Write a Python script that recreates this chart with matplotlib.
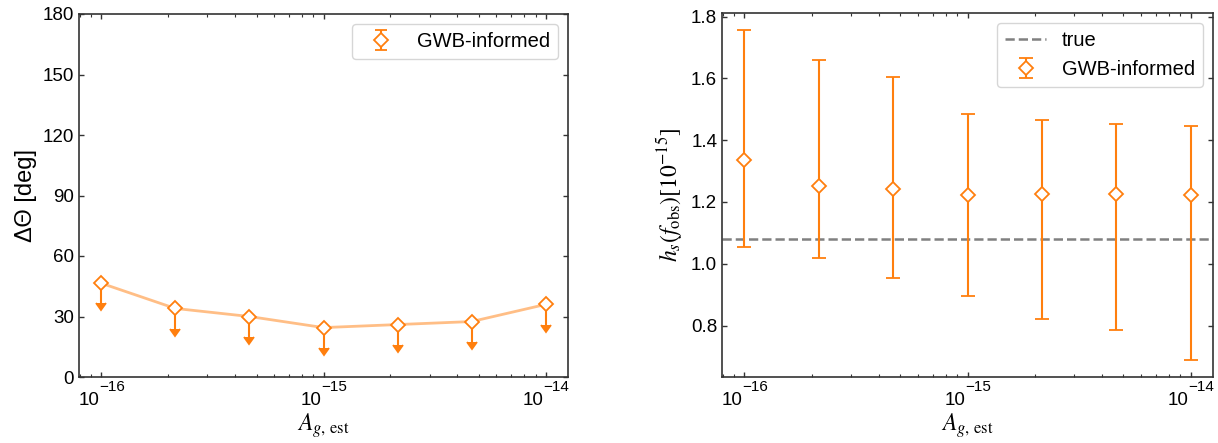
import numpy as np
import matplotlib
matplotlib.use("Agg")
import matplotlib.pyplot as plt
from matplotlib.ticker import NullFormatter, LogLocator

plt.rcParams['font.family'] = ['Liberation Sans', 'DejaVu Sans']
plt.rcParams['mathtext.fontset'] = 'stix'
plt.rcParams['font.size'] = 13.5

# amplitudes of the injected GWB estimate
a_est = [1e-16, 2.154e-16, 4.642e-16, 1e-15, 2.154e-15, 4.642e-15, 1e-14]
decades = [-16, -15, -14]

# left panel: sky localisation upper limits [deg]
dtheta = [46.5, 34.0, 30.0, 24.5, 26.0, 27.5, 36.0]
dtheta_arrow = [10.0, 10.0, 10.0, 10.0, 10.0, 10.0, 10.0]

# right panel: strain amplitude [1e-15]
hs_med = [1.335, 1.252, 1.243, 1.223, 1.227, 1.227, 1.223]
hs_hi = [1.758, 1.659, 1.606, 1.485, 1.465, 1.451, 1.447]
hs_lo = [1.054, 1.018, 0.954, 0.894, 0.822, 0.785, 0.687]
hs_true = 1.081

orange = '#ff7f0e'
W, H = 1218, 443
fig = plt.figure(figsize=(W / 100, H / 100), dpi=100)
ax1 = fig.add_axes([79 / W, 66 / H, 489 / W, 363 / H])
ax2 = fig.add_axes([722 / W, 66 / H, 491 / W, 364 / H])

for ax in (ax1, ax2):
    ax.set_xscale('log')
    ax.set_xticks([10.0 ** d for d in decades])
    ax.xaxis.set_minor_locator(LogLocator(base=10, subs=np.arange(2, 10)))
    ax.xaxis.set_major_formatter(NullFormatter())
    ax.xaxis.set_minor_formatter(NullFormatter())
    ax.tick_params(which='both', direction='in', top=True, right=True,
                   labelsize=13.5, color='#333333')
    ax.tick_params(which='major', length=3.5, width=1)
    ax.tick_params(which='minor', length=2, width=0.8)
    for s in ax.spines.values():
        s.set_linewidth(1.2)
        s.set_color('#333333')
    # old-style log labels: big "10" with a high exponent
    for d in decades:
        ax.annotate('10', xy=(10.0 ** d, 0), xycoords=('data', 'axes fraction'),
                    xytext=(-1.5, -10.5), textcoords='offset points',
                    ha='right', va='top', fontsize=13.5)
        ax.annotate('\u2212%d' % -d, xy=(10.0 ** d, 0),
                    xycoords=('data', 'axes fraction'),
                    xytext=(-1.5, -2.5), textcoords='offset points',
                    ha='left', va='top', fontsize=11)
    ax.set_xlabel(r'$A_{g,\,\mathrm{est}}$', fontsize=17, labelpad=21)

mstyle = dict(fmt='D', color=orange, mfc='white', mec=orange, ms=7,
              mew=1.3, elinewidth=1.5)

# left panel
ax1.plot(a_est, dtheta, color=orange, alpha=0.5, lw=2)
ax1.errorbar(a_est, dtheta, yerr=dtheta_arrow, uplims=True, capsize=3.5,
             **mstyle)
ax1.errorbar([np.nan], [np.nan], yerr=[1], capsize=4, capthick=1.5,
             label='GWB-informed', **mstyle)
ax1.set_ylim(0, 180)
ax1.set_yticks(np.arange(0, 181, 30))
ax1.set_ylabel('ΔΘ [deg]', fontsize=17)
ax1.legend(loc='upper right', fontsize=14.5)

# right panel
err = [np.array(hs_med) - np.array(hs_lo), np.array(hs_hi) - np.array(hs_med)]
ax2.axhline(hs_true, color='#808080', ls='--', lw=1.8, label='true')
ax2.errorbar(a_est, hs_med, yerr=err, capsize=5, capthick=1.5,
             label='GWB-informed', **mstyle)
ax2.set_yticks([0.8, 1.0, 1.2, 1.4, 1.6, 1.8])
ax2.set_ylabel(r'$h_s(f_{\rm obs})[10^{-15}]$', fontsize=17)
ax2.legend(loc='upper right', fontsize=14.5)

fig.savefig('out.png', dpi=100)
